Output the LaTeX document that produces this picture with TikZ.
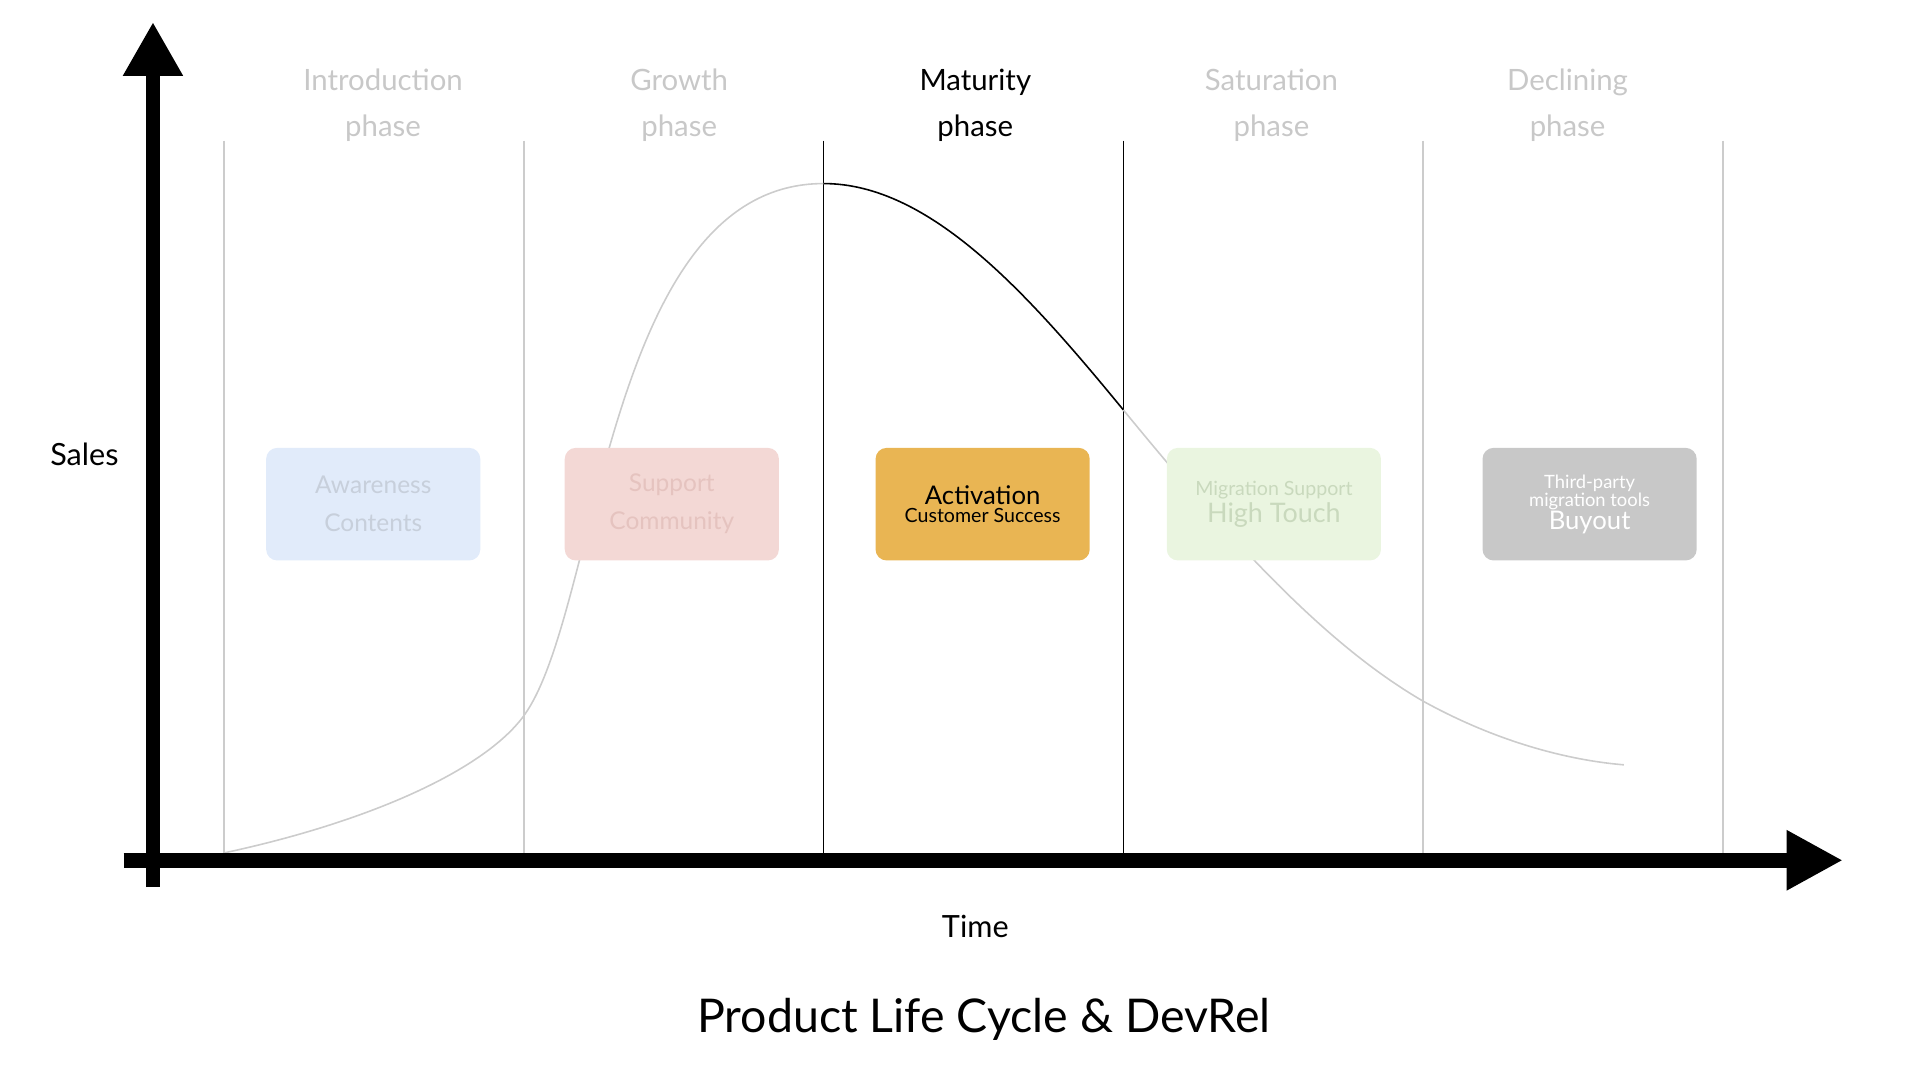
\documentclass[tikz,border=0pt]{standalone}
\usepackage{fontspec}
\setmainfont{Lato}
\usetikzlibrary{arrows.meta}
\definecolor{lg}{HTML}{CCCCCC}
\definecolor{ph}{HTML}{C8C8C8}
\definecolor{f1}{HTML}{E1EBFA}\definecolor{t1}{HTML}{C7CFDB}
\definecolor{f2}{HTML}{F3D8D5}\definecolor{t2}{HTML}{E5C3BF}
\definecolor{f3}{HTML}{E9B553}
\definecolor{f4}{HTML}{EAF5E0}\definecolor{t4}{HTML}{C9D9BD}
\definecolor{f5}{HTML}{C8C8C8}
\newcommand{\szsmall}{\fontsize{15}{22}\selectfont}
\newcommand{\szmid}{\fontsize{16}{20}\selectfont}
\newcommand{\szbig}{\fontsize{21}{26}\selectfont}
\begin{document}
\begin{tikzpicture}[x=1pt,y=-1pt,
  phase/.style={align=center,font=\fontsize{24}{38}\selectfont,text=ph},
  box/.style={rounded corners=9pt,minimum width=175pt,minimum height=92pt,align=center,inner sep=2pt},
  vl/.style={draw=lg,line width=1.3pt},
  vb/.style={draw=black,line width=1.3pt}]
\useasboundingbox (0,0) rectangle (1569,883);
% vertical lines
\foreach \x in {183,428,1163,1408}{\draw[vl] (\x,115) -- (\x,697);}
\foreach \x in {673,918}{\draw[vb] (\x,115) -- (\x,697);}
% curve
\draw[lg,line width=1.3pt] (183,697) .. controls (300,672) and (395,630) .. (428,585)
  .. controls (490,500) and (495,150) .. (673,150);
\draw[black,line width=1.3pt] (673,150) .. controls (760,150) and (840,240) .. (918,335);
\draw[lg,line width=1.3pt] (918,335) .. controls (1000,435) and (1080,525) .. (1163,573)
  .. controls (1230,610) and (1290,622) .. (1327,625);
% axes
\coordinate (xs) at (101,703); \coordinate (xe) at (1506,703);
\coordinate (ys) at (125,725); \coordinate (ye) at (125,18);
\draw[line width=12pt,-{Triangle[width=46pt,length=46pt]}] (xs) -- (xe);
\draw[line width=12pt,-{Triangle[width=46pt,length=44pt]}] (ys) -- (ye);
% phases
\node[phase] (p1) at (313,86) {Introduction\\phase};
\node[phase] (p2) at (555,86) {Growth\\phase};
\node[phase,text=black] (p3) at (797,86) {Maturity\\phase};
\node[phase] (p4) at (1039,86) {Saturation\\phase};
\node[phase] (p5) at (1281,86) {Declining\\phase};
% boxes
\node[box,fill=f1,text=t1,font=\fontsize{20}{31}\selectfont] (b1) at (305,412) {Awareness\\Contents};
\node[box,fill=f2,text=t2,font=\fontsize{20}{31}\selectfont] (b2) at (549,412) {Support\\Community};
\node[box,fill=f3,text=black] (b3) at (803,412) {\szbig Activation\\[2pt]\szmid Customer Success};
\node[box,fill=f4,text=t4] (b4) at (1041,412) {\szmid Migration Support\\[2pt]\fontsize{22}{26}\selectfont High Touch};
\node[box,fill=f5,text=white] (b5) at (1299,412) {\szsmall Third-party\\\szsmall migration tools\\\szbig Buyout};
% labels
\node[font=\fontsize{25}{30}\selectfont] (sales) at (69,371) {Sales};
\node[font=\fontsize{25}{30}\selectfont] (time) at (797,757) {Time};
\node[font=\fontsize{38}{44}\selectfont] (title) at (804,833) {Product Life Cycle \& DevRel};
\end{tikzpicture}
\end{document}
